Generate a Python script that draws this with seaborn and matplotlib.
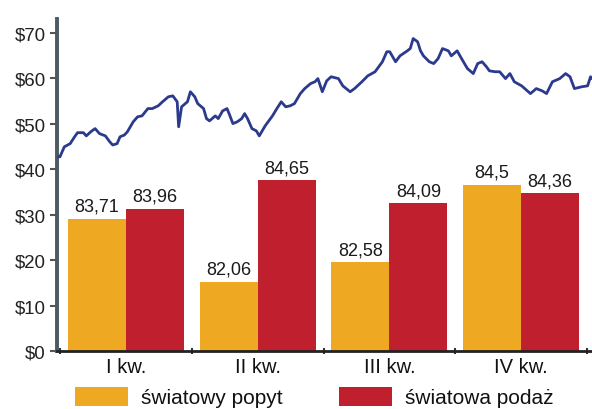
import matplotlib
matplotlib.use("Agg")
import matplotlib.pyplot as plt
from matplotlib.patches import Patch
import seaborn as sns
import pandas as pd

# ---- data ----
quarters = ["I kw.", "II kw.", "III kw.", "IV kw."]
series_names = ["światowy popyt", "światowa podaż"]
demand_bar = [29.1, 15.2, 19.5, 36.6]      # bar heights on $ scale
supply_bar = [31.3, 37.5, 32.5, 34.7]
demand_labels = ["83,71", "82,06", "82,58", "84,5"]
supply_labels = ["83,96", "84,65", "84,09", "84,36"]

price_day = [1, 2, 5, 9, 12, 14, 18, 20, 23, 26,
             29, 33, 36, 38, 41, 43, 46, 48, 52, 55,
             58, 62, 65, 69, 72, 76, 79, 82, 83, 85,
             89, 91, 94, 96, 100, 102, 104, 108, 110, 113,
             116, 118, 120, 123, 126, 128, 130, 133, 136, 138,
             142, 147, 150, 153, 156, 159, 162, 166, 169, 173,
             176, 178, 181, 184, 187, 192, 195, 200, 203, 208,
             212, 217, 222, 225, 227, 231, 234, 239, 241, 243,
             246, 248, 250, 254, 257, 260, 263, 267, 269, 273,
             276, 280, 284, 287, 290, 293, 295, 299, 302, 306,
             309, 312, 317, 323, 327, 331, 334, 338, 343, 347,
             350, 353, 358, 362, 364, 365]
price_usd = [42.7, 42.7, 44.9, 45.6, 47.1, 48.0, 48.0, 47.3, 48.2, 48.9,
             47.8, 47.3, 46.0, 45.3, 45.6, 47.1, 47.5, 48.2, 50.4, 51.5,
             51.7, 53.3, 53.3, 53.9, 54.8, 55.9, 56.1, 54.8, 49.3, 53.7,
             54.8, 57.0, 55.9, 54.4, 53.3, 51.1, 50.6, 51.7, 51.1, 52.8,
             53.3, 51.7, 50.0, 50.4, 51.1, 52.2, 51.1, 48.9, 48.4, 47.3,
             49.5, 51.7, 53.3, 54.8, 53.7, 53.9, 54.4, 56.6, 57.7, 58.8,
             59.2, 59.9, 57.0, 59.4, 60.3, 59.9, 58.3, 57.0, 57.7, 59.2,
             60.5, 61.4, 63.6, 65.8, 65.8, 63.6, 64.9, 66.0, 66.5, 68.7,
             68.0, 66.0, 64.9, 63.6, 63.2, 64.3, 66.5, 66.0, 64.9, 66.0,
             64.3, 62.1, 61.0, 63.2, 63.6, 62.5, 61.6, 61.4, 61.4, 59.9,
             61.0, 59.2, 58.3, 56.6, 57.7, 57.2, 56.6, 59.2, 59.9, 61.0,
             60.3, 57.7, 58.1, 58.3, 60.3, 59.9]

yticks = [0, 10, 20, 30, 40, 50, 60, 70]
ytick_labels = ["$0", "$10", "$20", "$30", "$40", "$50", "$60", "$70"]

colors = {"światowy popyt": "#EFA822", "światowa podaż": "#C01F2D"}
line_color = "#2B3A8C"

# ---- tables ----
bars = pd.DataFrame({
    "quarter": quarters * 2,
    "series": [series_names[0]] * 4 + [series_names[1]] * 4,
    "value": demand_bar + supply_bar,
})
prices = pd.DataFrame({"day": price_day, "price": price_usd})

# ---- style ----
sns.set_theme(style="white")
plt.rcParams["font.family"] = ["Liberation Sans", "DejaVu Sans"]

fig = plt.figure(figsize=(5.92, 4.10), dpi=100)
ax = fig.add_axes([57 / 592, 1 - 352 / 410, 535 / 592, 332 / 410])

sns.barplot(data=bars, x="quarter", y="value", hue="series", order=quarters,
            hue_order=series_names, palette=colors, width=0.88, ax=ax,
            legend=False, saturation=1, linewidth=0)

for cont, labs in zip(ax.containers, [demand_labels, supply_labels]):
    ax.bar_label(cont, labels=labs, padding=3, fontsize=13, color="#1a1a1a")

ax.set_xlim(-0.524, 3.538)
ax.set_ylim(0, 73)
ax.set_yticks(yticks, labels=ytick_labels)
ax.set_xticks([-0.5, 0.5, 1.5, 2.5, 3.5], labels=[])
ax.set_xticks(range(len(quarters)), labels=quarters, minor=True)
ax.tick_params(axis="x", which="major", direction="inout", length=5, width=1.5,
               color="#333333", bottom=True)
ax.tick_params(axis="x", which="minor", length=0, pad=4, labelsize=14.5,
               labelcolor="#111111", bottom=True)
ax.tick_params(axis="y", direction="out", length=5, width=1.5, pad=3,
               labelsize=13.4, labelcolor="#222222", color="#555555", left=True)
ax.set_xlabel("")
ax.set_ylabel("")
for s in ["top", "right"]:
    ax.spines[s].set_visible(False)
ax.spines["left"].set_color("#4D5A63")
ax.spines["left"].set_linewidth(2.8)
ax.spines["bottom"].set_color("#222222")
ax.spines["bottom"].set_linewidth(2)

# price line on a twin x-axis (days of year)
ax2 = ax.twiny()
sns.lineplot(data=prices, x="day", y="price", ax=ax2, color=line_color,
             linewidth=2.0, estimator=None)
ax2.set_xlim(0, 365)
ax2.set_ylim(0, 73)
ax2.set_xticks([])
ax2.set_xlabel("")
ax2.set_ylabel("")
for s in ax2.spines.values():
    s.set_visible(False)

handles = [Patch(facecolor=colors[n], edgecolor="none", label=n) for n in series_names]
fig.legend(handles=handles, loc="center", bbox_to_anchor=(0.531, 0.029), ncol=2,
           frameon=False, fontsize=15, handlelength=2.55, handleheight=1.0,
           handletextpad=0.63, columnspacing=2.7, borderpad=0, labelcolor="#111111")

fig.savefig("out.png", dpi=100)
